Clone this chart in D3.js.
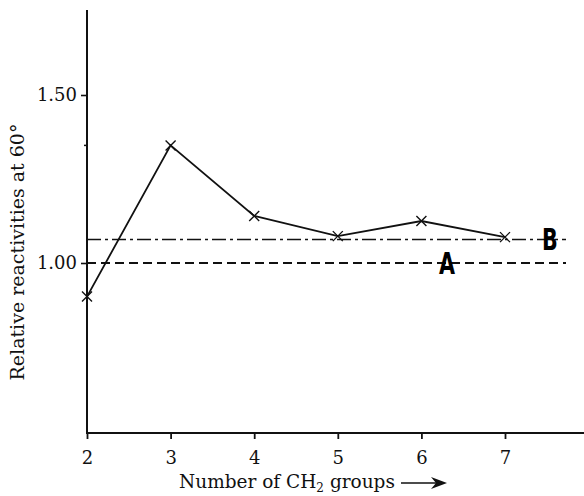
<!DOCTYPE html>
<html>
<head>
<meta charset="utf-8">
<script src="https://cdn.jsdelivr.net/npm/d3@7"></script>
<style>
  body { margin: 0; background: #fff; }
  text { font-family: "DejaVu Serif", serif; fill: #111; }
</style>
</head>
<body>
<div class="canvas"></div>
<script>
// data
const groups = [2, 3, 4, 5, 6, 7];
const reactivity = [0.90, 1.35, 1.14, 1.08, 1.125, 1.077];
const lineA = 1.00;
const lineB = 1.07;
const yTicks = [1.00, 1.50];
const yMinor = [1.35];

const width = 584, height = 496;

const x = d3.scaleLinear()
  .domain([2, 7])
  .range([87, 505]);

const y = d3.scaleLinear()
  .domain([0.5, 1.75])
  .range([431, 11]);

const svg = d3.select('.canvas')
  .append('svg')
  .attr('width', width)
  .attr('height', height);

// reference lines A and B
svg.append('line')
  .attr('x1', x(2)).attr('x2', 566)
  .attr('y1', y(lineB)).attr('y2', y(lineB))
  .attr('stroke', '#111')
  .attr('stroke-width', 1.6)
  .attr('stroke-dasharray', '14,4,3,4');

svg.append('line')
  .attr('x1', x(2)).attr('x2', 566)
  .attr('y1', y(lineA)).attr('y2', y(lineA))
  .attr('stroke', '#111')
  .attr('stroke-width', 1.8)
  .attr('stroke-dasharray', '9,5');

const letter = (txt, cx, base) => {
  svg.append('text')
    .attr('x', 0).attr('y', 0)
    .attr('text-anchor', 'middle')
    .attr('transform', `translate(${cx},${base}) scale(1,1.3)`)
    .style('font-family', '"DejaVu Sans Condensed", "DejaVu Sans", sans-serif')
    .style('font-weight', 'bold')
    .style('font-size', '23px')
    .style('fill', '#000')
    .text(txt);
};
letter('A', 447, y(lineA) + 11);
letter('B', 550, y(lineB) + 11);

// axes
const xAxis = svg.append('g')
  .attr('transform', 'translate(0,433)')
  .call(d3.axisBottom(x).tickValues(groups).tickSize(6).tickPadding(12).tickFormat(d3.format('d')));
xAxis.attr('font-size', 18).attr('font-family', null);
xAxis.select('.domain').remove();
xAxis.append('line')
  .attr('x1', 86).attr('x2', 584)
  .attr('stroke', '#111').attr('stroke-width', 2);
xAxis.selectAll('.tick line').attr('stroke', '#111').attr('stroke-width', 1.8);
xAxis.selectAll('.tick text').style('font-size', '18px').style('fill', '#111');

const yAxis = svg.append('g')
  .attr('transform', 'translate(87,0)')
  .call(d3.axisLeft(y).tickValues(yTicks).tickSize(6).tickPadding(4).tickFormat(d3.format('.2f')));
yAxis.attr('font-size', 18).attr('font-family', null);
yAxis.select('.domain').remove();
yAxis.append('line')
  .attr('y1', 10).attr('y2', 434)
  .attr('stroke', '#111').attr('stroke-width', 2);
yAxis.selectAll('.tick line').attr('stroke', '#111').attr('stroke-width', 1.6);
yAxis.selectAll('.tick text').style('font-size', '18px').style('fill', '#111');

yAxis.selectAll('.minor')
  .data(yMinor)
  .enter().append('line')
  .attr('x1', -3).attr('x2', 0)
  .attr('y1', d => y(d)).attr('y2', d => y(d))
  .attr('stroke', '#111').attr('stroke-width', 1.5);

// axis titles
const xt = svg.append('text')
  .attr('x', 287).attr('y', 488)
  .attr('text-anchor', 'middle')
  .style('font-size', '18.5px');
xt.append('tspan').text('Number of CH');
xt.append('tspan').attr('dy', 4).style('font-size', '12px').text('2');
xt.append('tspan').attr('dy', -4).text(' groups');

svg.append('path')
  .attr('d', 'M401,483 L440,483')
  .attr('stroke', '#111').attr('stroke-width', 1.6);
svg.append('path')
  .attr('d', 'M431,477 L447,483 L431,489 L436,483 Z')
  .attr('fill', '#111');

svg.append('text')
  .attr('transform', 'translate(24,252) rotate(-90)')
  .attr('text-anchor', 'middle')
  .style('font-size', '19px')
  .text('Relative reactivities at 60°');

// data line
const pts = groups.map((g, i) => [g, reactivity[i]]);
svg.append('path')
  .datum(pts)
  .attr('fill', 'none')
  .attr('stroke', '#111')
  .attr('stroke-width', 1.8)
  .attr('d', d3.line().x(d => x(d[0])).y(d => y(d[1])));

svg.selectAll('.pt')
  .data(pts)
  .enter().append('path')
  .attr('class', 'pt')
  .attr('transform', d => `translate(${x(d[0])},${y(d[1])})`)
  .attr('d', 'M-5,-5 L5,5 M-5,5 L5,-5')
  .attr('stroke', '#111')
  .attr('stroke-width', 1.4);
</script>
</body>
</html>
